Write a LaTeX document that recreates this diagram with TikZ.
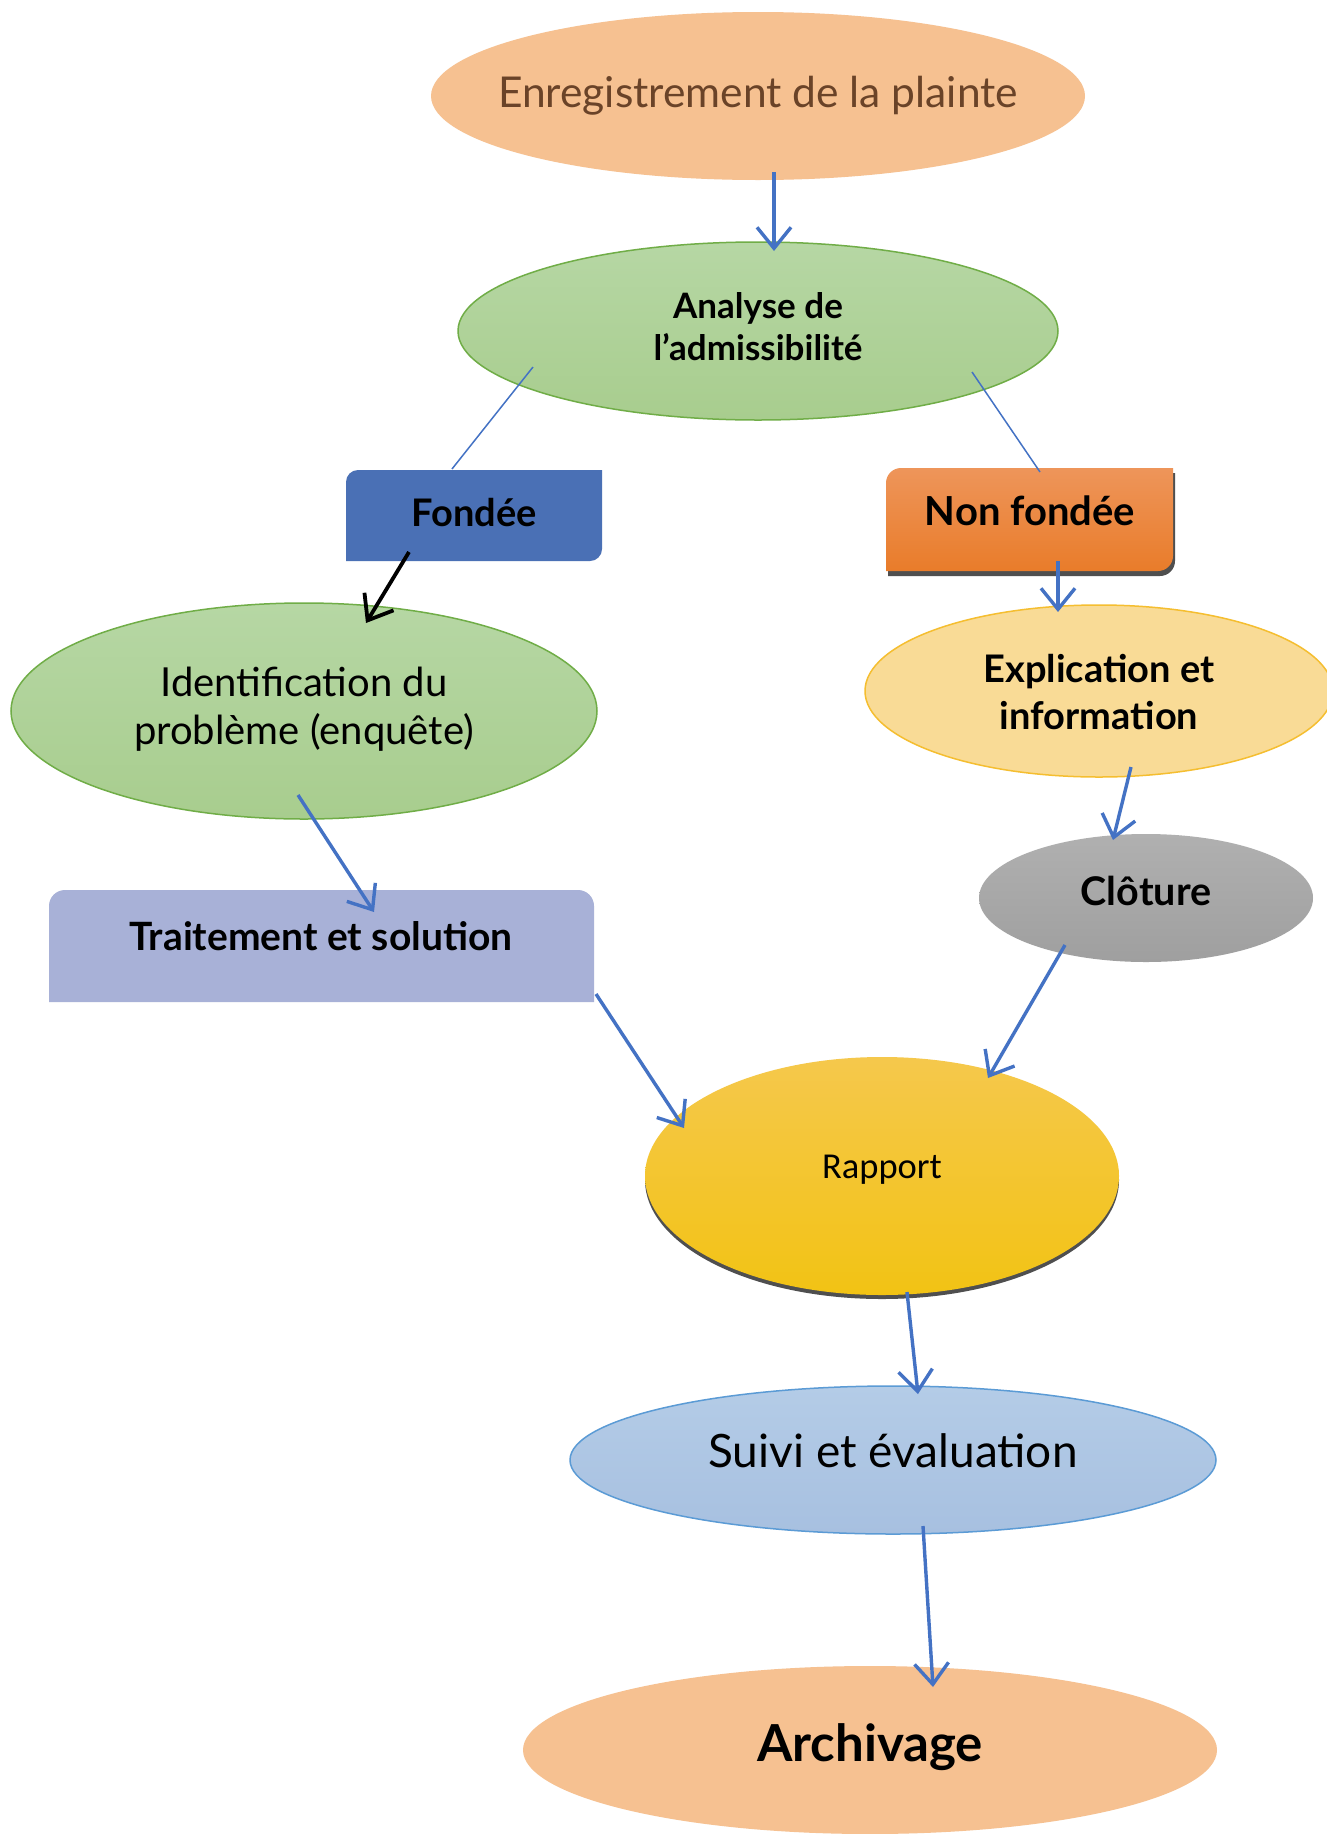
\documentclass[tikz,border=0pt]{standalone}
\usepackage{fontspec}
\setmainfont{Lato}
\newfontfamily\calib{Carlito}
\usetikzlibrary{shapes.geometric,arrows.meta,calc,shadows}
\definecolor{peach}{HTML}{F6C191}
\definecolor{browntxt}{HTML}{6A4328}
\definecolor{grtop}{HTML}{B6D7A4}
\definecolor{grbot}{HTML}{A8CD8E}
\definecolor{grline}{HTML}{70AD47}
\definecolor{fondblue}{HTML}{4A70B5}
\definecolor{nftop}{HTML}{EE955A}
\definecolor{nfbot}{HTML}{E97C2A}
\definecolor{expfill}{HTML}{F9DB96}
\definecolor{expline}{HTML}{F5BE30}
\definecolor{cltop}{HTML}{B0B0B0}
\definecolor{clbot}{HTML}{9F9F9F}
\definecolor{traitfill}{HTML}{A8B1D7}
\definecolor{raptop}{HTML}{F5C84C}
\definecolor{rapbot}{HTML}{F2C314}
\definecolor{suitop}{HTML}{B4CCE7}
\definecolor{suibot}{HTML}{A7C0E0}
\definecolor{suiline}{HTML}{5B9BD5}
\definecolor{arrblue}{HTML}{4472C4}
\definecolor{shadowgray}{HTML}{4F4F4F}
\tikzset{
  ell/.style={ellipse, inner sep=-80pt, align=center},
  arr/.style={draw=arrblue, line width=3.4pt, -{Straight Barb[length=21pt,width=34pt,line width=3.4pt]}},
  thinline/.style={draw=arrblue, line width=1.5pt},
}
\newcommand{\twolines}[2]{\begin{tabular}{@{}c@{}}#1\\#2\end{tabular}}
\begin{document}
\begin{tikzpicture}[x=1pt,y=-1pt]
\useasboundingbox (0,0) rectangle (1326,1834);
\fill[white] (0,0) rectangle (1326,1834);

% Enregistrement
\node[ell, fill=peach, minimum width=654pt, minimum height=168pt, text=browntxt, font=\fontsize{42.5}{50}\selectfont]
  (enr) at (758,96) {Enregistrement de la plainte};

% Analyse
\node[ell, top color=grtop, bottom color=grbot, draw=grline, line width=1.5pt,
  minimum width=600pt, minimum height=178pt, font=\fontsize{35}{42}\selectfont\bfseries]
  (ana) at (758,331) {\raisebox{12pt}{\twolines{Analyse de}{l'admissibilité}}};

% Fondée box
\fill[fondblue] (346,561) [rounded corners=12pt] -- (346,470) [sharp corners] -- (602,470) [rounded corners=12pt] -- (602,561) [sharp corners] -- cycle;
\node[font=\fontsize{38}{44}\selectfont\bfseries, minimum width=256pt, minimum height=91pt, inner sep=0pt]
  (fon) at (474,513) {Fondée};

% Non fondée box with shadow
\fill[shadowgray] (888,576) [rounded corners=15pt] -- (888,473) [sharp corners] -- (1175,473) [rounded corners=15pt] -- (1175,576) [sharp corners] -- cycle;
\shade[top color=nftop, bottom color=nfbot] (886,571) [rounded corners=15pt] -- (886,468) [sharp corners] -- (1173,468) [rounded corners=15pt] -- (1173,571) [sharp corners] -- cycle;
\node[font=\fontsize{40}{46}\selectfont\bfseries, minimum width=287pt, minimum height=103pt, inner sep=0pt]
  (nf) at (1030,511) {Non fondée};

% Identification
\node[ell, top color=grtop, bottom color=grbot, draw=grline, line width=1.5pt,
  minimum width=586pt, minimum height=216pt, font=\fontsize{40}{48}\selectfont]
  (ide) at (304,711) {\raisebox{12pt}{\twolines{Identification du}{problème (enquête)}}};

% Explication
\node[ell, fill=expfill, draw=expline, line width=1.5pt,
  minimum width=468pt, minimum height=172pt, font=\fontsize{38}{47}\selectfont\bfseries]
  (exp) at (1099,691) {\raisebox{0pt}[\dimexpr\height+12pt\relax][\depth]{\twolines{Explication et}{information}}};

% Clôture
\node[ell, top color=cltop, bottom color=clbot,
  minimum width=334pt, minimum height=128pt, font=\fontsize{39.5}{46}\selectfont\bfseries]
  (clo) at (1146,898) {\raisebox{15pt}{Clôture}};

% Traitement box
\fill[traitfill] (49,1002) [rounded corners=16pt] -- (49,890) -- (594,890) [sharp corners] -- (594,1002) -- cycle;
\node[font=\fontsize{39}{45}\selectfont\bfseries, minimum width=545pt, minimum height=112pt, inner sep=0pt]
  (tra) at (321,936) {Traitement et solution};

% Rapport
\node[ell, top color=raptop, bottom color=rapbot,
  drop shadow={shadow xshift=0pt, shadow yshift=-4pt, fill=shadowgray, opacity=1},
  minimum width=474pt, minimum height=238pt, font=\calib\fontsize{36.5}{42}\selectfont]
  (rap) at (882,1176) {\raisebox{19pt}{Rapport}};

% Suivi
\node[ell, top color=suitop, bottom color=suibot, draw=suiline, line width=1.5pt,
  minimum width=646pt, minimum height=148pt, font=\fontsize{46}{52}\selectfont]
  (sui) at (893,1460) {\raisebox{19pt}{Suivi et évaluation}};

% Archivage
\node[ell, fill=peach, minimum width=694pt, minimum height=168pt, font=\fontsize{51}{58}\selectfont\bfseries]
  (arc) at (870,1750) {\raisebox{14pt}{Archivage}};

% connectors
\draw[arr] ($(enr.center)+(16,76)$) -- ($(ana.center)+(16,-80)$);
\draw[thinline] ($(ana.center)+(-225,36)$) -- ($(fon.center)+(-22,-44)$);
\draw[thinline] ($(ana.center)+(214,41)$) -- ($(nf.center)+(10,-39)$);
\draw[line width=3.8pt, -{Straight Barb[length=22pt,width=34pt,line width=3.8pt]}] ($(fon.center)+(-65,39)$) -- ($(ide.center)+(62,-88)$);
\draw[arr] ($(nf.center)+(28,50)$) -- ($(exp.center)+(-41,-79)$);
\draw[arr] ($(ide.center)+(-6,84)$) -- ($(tra.center)+(53,-24)$);
\draw[arr] ($(exp.center)+(32,76)$) -- ($(clo.center)+(-33,-58)$);
\draw[arr] ($(tra.center)+(275,58)$) -- ($(rap.center)+(-198,-48)$);
\draw[arr] ($(clo.center)+(-81,47)$) -- ($(rap.center)+(106,-98)$);
\draw[arr] ($(rap.center)+(25,116)$) -- ($(sui.center)+(25,-66)$);
\draw[arr] ($(sui.center)+(30,66)$) -- ($(arc.center)+(63,-63)$);
\end{tikzpicture}
\end{document}
